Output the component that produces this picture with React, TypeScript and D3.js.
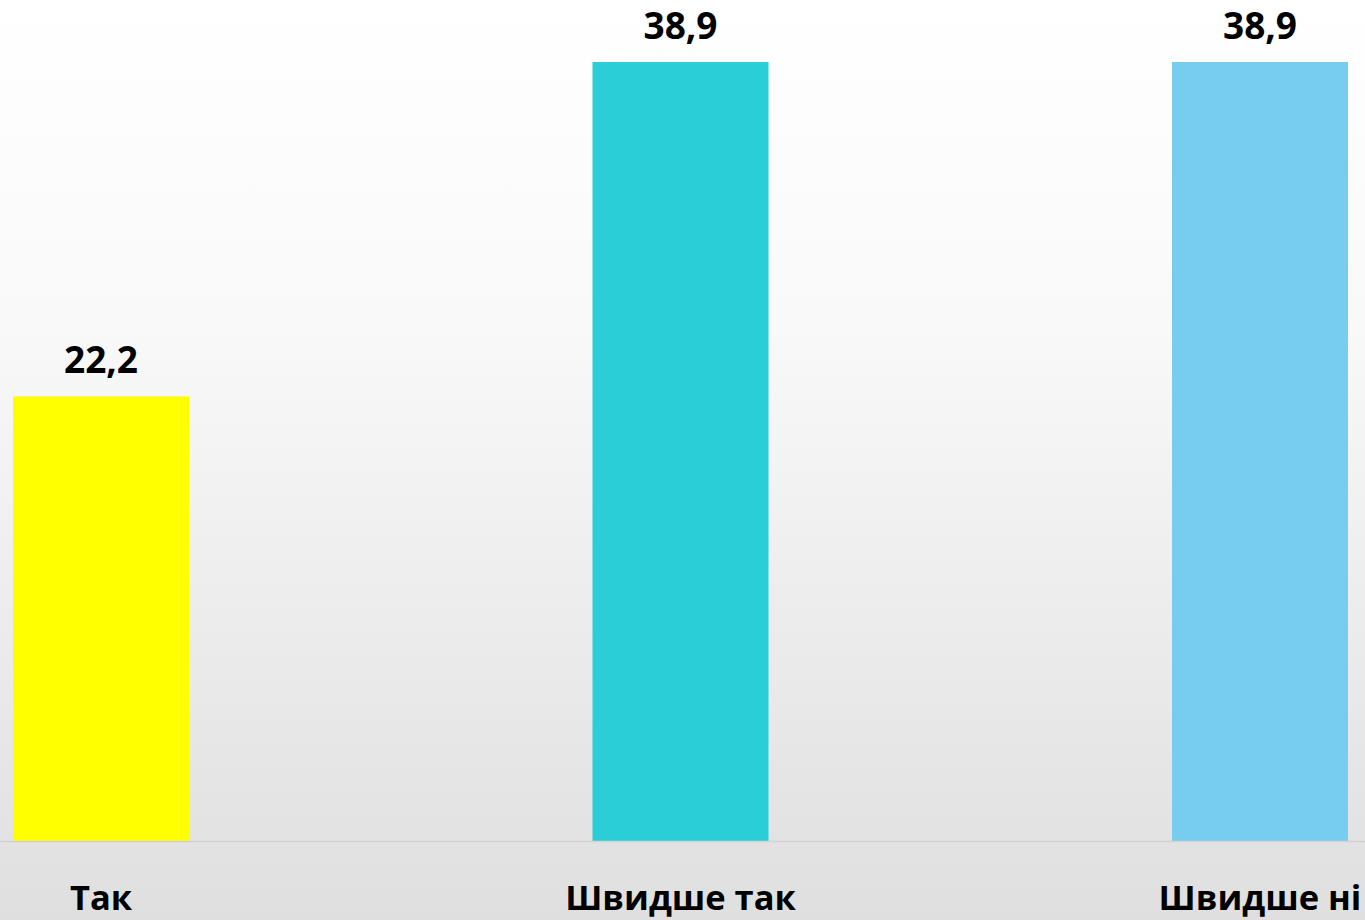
import React from "react";
import * as d3 from "d3";

const categories = ["Так", "Швидше так", "Швидше ні"];
const values = [22.2, 38.9, 38.9];
const valueLabels = ["22,2", "38,9", "38,9"];
const colors = ["#ffff00", "#29ced7", "#77cdf0"];

const W = 1365;
const H = 920;
const baseline = 841;

export default function App() {
  const x = d3.scalePoint<string>().domain(categories).range([101, 1260]);
  const y = d3.scaleLinear().domain([0, 38.9]).range([baseline, 62]);
  const barW = 176;
  const font = "'Open Sans', sans-serif";
  return (
    <svg
      width={W}
      height={H}
      style={{ position: "absolute", left: 0, top: 0 }}
      fontFamily={font}
    >
      <defs>
        <linearGradient id="bg" x1="0" y1="0" x2="0" y2="1">
          <stop offset="0" stopColor="#ffffff" />
          <stop offset="0.35" stopColor="#f9f9f9" />
          <stop offset="1" stopColor="#dfdfdf" />
        </linearGradient>
      </defs>
      <rect x={0} y={0} width={W} height={H} fill="url(#bg)" />
      {categories.map((c, i) => (
        <g key={c}>
          <rect
            x={(x(c) as number) - barW / 2}
            y={y(values[i])}
            width={barW}
            height={baseline - y(values[i])}
            fill={colors[i]}
          />
          <text
            x={x(c) as number}
            y={y(values[i]) - 23}
            textAnchor="middle"
            fontWeight="bold"
            fontSize={37}
            fill="#000"
          >
            {valueLabels[i]}
          </text>
          <text
            x={x(c) as number}
            y={910}
            textAnchor="middle"
            fontWeight="bold"
            fontSize={34.5}
            fill="#000"
          >
            {c}
          </text>
        </g>
      ))}
      <line x1={0} x2={W} y1={baseline + 0.5} y2={baseline + 0.5} stroke="#d2d2d2" strokeWidth={1.5} />
    </svg>
  );
}
